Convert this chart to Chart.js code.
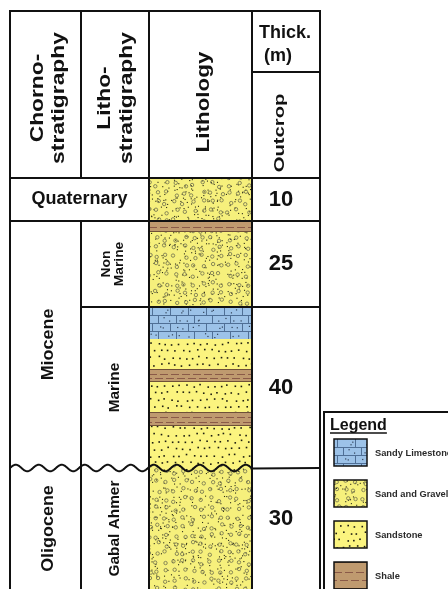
<!DOCTYPE html>
<html>
<head>
<meta charset="utf-8">
<script src="https://cdn.jsdelivr.net/npm/chart.js@4.4.1/dist/chart.umd.min.js"></script>
<style>
  html, body { margin: 0; padding: 0; background: #fff; overflow: hidden; }
  canvas { display: block; }
</style>
</head>
<body>
<canvas id="column" width="448" height="589"></canvas>
<script>
// Lithology layers, top to base, in schematic column units (not to scale)
const layerTypes = ['gravel', 'shale', 'gravel', 'limestone', 'sandstone', 'shale', 'sandstone', 'shale', 'sandstone', 'gravel'];
const layerTops  = [0,   4.3, 5.4,  12.9, 16.1, 19.1, 20.4, 23.4, 24.8, 29.0];
const layerBases = [4.3, 5.4, 12.9, 16.1, 19.1, 20.4, 23.4, 24.8, 29.0, 41.1];
const columnDepth = 41.1;

// Chronostratigraphic units
const chronoUnits = ['Quaternary', 'Miocene', 'Oligocene'];
const chronoTops  = [0, 4.3, 29.0];
const chronoBases = [4.3, 29.0, 41.1];

// Lithostratigraphic units and outcrop thickness (m)
const lithoUnits = ['', 'Non\nMarine', 'Marine', 'Gabal Ahmer'];
const lithoTops  = [0, 4.3, 12.9, 29.0];
const lithoBases = [4.3, 12.9, 29.0, 41.1];
const outcropThickness = [10, 25, 40, 30];

// Unconformity between Miocene and Oligocene
const unconformityAt = 29.0;

// Legend entries
const legendTypes  = ['limestone', 'gravel', 'sandstone', 'shale'];
const legendLabels = ['Sandy Limestone', 'Sand and Gravel', 'Sandstone', 'Shale'];

const FILL = { gravel: '#f6f07c', sandstone: '#fbf47f', shale: '#bf9a6f', limestone: '#9cc2e8' };
const FONT = '"Liberation Sans", Arial, sans-serif';
const INK = '#111';

// table frame
const T = { left: 10, top: 11, col2: 81, right: 320, thickSplit: 72 };

function hsh(a, b, s) {
  const v = Math.sin(a * 127.1 + b * 311.7 + s * 74.7) * 43758.5453;
  return v - Math.floor(v);
}

// fills a rectangle with a lithology texture
function texture(ctx, type, x, y, w, h) {
  ctx.save();
  ctx.beginPath(); ctx.rect(x, y, w, h); ctx.clip();
  ctx.fillStyle = FILL[type];
  ctx.fillRect(x, y, w, h);
  if (type === 'gravel') {
    const s = 4;
    ctx.fillStyle = '#2b2b18';
    for (let j = Math.floor(y / s) - 1; j <= Math.ceil((y + h) / s); j++) {
      for (let i = Math.floor(x / s) - 1; i <= Math.ceil((x + w) / s); i++) {
        if (hsh(i, j, 1) < 0.5) ctx.fillRect(i * s + hsh(i, j, 2) * s, j * s + hsh(i, j, 3) * s, 1.1, 1.1);
      }
    }
    const g = 9;
    ctx.strokeStyle = '#7c7c52'; ctx.lineWidth = 0.9;
    for (let j = Math.floor(y / g) - 1; j <= Math.ceil((y + h) / g); j++) {
      for (let i = Math.floor(x / g) - 1; i <= Math.ceil((x + w) / g); i++) {
        const cx = i * g + 2 + hsh(i, j, 4) * (g - 4);
        const cy = j * g + 2 + hsh(i, j, 5) * (g - 4);
        ctx.beginPath(); ctx.arc(cx, cy, 1.7, 0, Math.PI * 2); ctx.stroke();
      }
    }
  } else if (type === 'sandstone') {
    const s = 7;
    ctx.fillStyle = '#1c1c10';
    for (let j = Math.floor(y / s) - 1; j <= Math.ceil((y + h) / s); j++) {
      for (let i = Math.floor(x / s) - 1; i <= Math.ceil((x + w) / s); i++) {
        const cx = i * s + (j % 2 ? 3.5 : 0) + (hsh(i, j, 6) - 0.5) * 3;
        const cy = j * s + (hsh(i, j, 7) - 0.5) * 3;
        ctx.fillRect(cx, cy, 1.6, 1.6);
      }
    }
  } else if (type === 'shale') {
    ctx.strokeStyle = '#6e5038'; ctx.lineWidth = 1;
    ctx.beginPath();
    ctx.moveTo(x, y + 0.5); ctx.lineTo(x + w, y + 0.5);
    ctx.moveTo(x, y + h - 0.5); ctx.lineTo(x + w, y + h - 0.5);
    ctx.stroke();
    ctx.strokeStyle = '#8a5a48';
    const rows = h >= 12 ? [0.36, 0.68] : [0.5];
    rows.forEach((f, k) => {
      ctx.setLineDash([8, 3]);
      ctx.lineDashOffset = k * 5;
      ctx.beginPath();
      ctx.moveTo(x, Math.round(y + h * f) + 0.5); ctx.lineTo(x + w, Math.round(y + h * f) + 0.5);
      ctx.stroke();
    });
    ctx.setLineDash([]);
  } else if (type === 'limestone') {
    const rh = 8, bw = 18;
    ctx.strokeStyle = '#4f6f96'; ctx.lineWidth = 1;
    const nRows = Math.ceil(h / rh);
    for (let k = 0; k < nRows; k++) {
      const ry = y + k * rh;
      ctx.beginPath();
      if (k > 0) { ctx.moveTo(x, ry + 0.5); ctx.lineTo(x + w, ry + 0.5); }
      const off = (k % 2) ? bw / 2 : 3;
      for (let bx = x + off; bx < x + w; bx += bw) {
        ctx.moveTo(Math.round(bx) + 0.5, ry); ctx.lineTo(Math.round(bx) + 0.5, ry + rh);
      }
      ctx.stroke();
      ctx.fillStyle = '#2f3f55';
      for (let bx = x + off - bw, m = 0; bx < x + w; bx += bw, m++) {
        for (let d = 0; d < 2; d++) {
          ctx.fillRect(bx + 2 + hsh(k, m, 8 + d) * (bw - 4), ry + 2 + hsh(k, m, 10 + d) * (rh - 4), 1.2, 1.2);
        }
      }
    }
  }
  ctx.restore();
}

function waveY(x, yU) {
  return yU + 3.3 * Math.sin((x - T.left) / 23 * Math.PI * 2 + Math.PI);
}

// vertical text reading bottom-to-top; bx is the baseline x, cy the centre along the text
function vText(ctx, text, bx, cy, size, stretch) {
  ctx.save();
  ctx.translate(bx, cy);
  ctx.rotate(-Math.PI / 2);
  ctx.scale(stretch, 1);
  ctx.font = 'bold ' + size + 'px ' + FONT;
  ctx.textAlign = 'center';
  ctx.textBaseline = 'alphabetic';
  ctx.fillStyle = INK;
  ctx.fillText(text, 0, 0);
  ctx.restore();
}

function hText(ctx, text, x, y, size, align, baseline, color) {
  ctx.save();
  ctx.font = 'bold ' + size + 'px ' + FONT;
  ctx.textAlign = align || 'center';
  ctx.textBaseline = baseline || 'middle';
  ctx.fillStyle = color || INK;
  ctx.fillText(text, x, y);
  ctx.restore();
}

const columnPlugin = {
  id: 'stratColumn',
  afterDatasetsDraw(chart) {
    const ctx = chart.ctx;
    const ys = chart.scales.y;
    const area = chart.chartArea;
    const L = area.left, R = area.right;

    // textures inside each layer bar
    chart.data.datasets.forEach((ds, i) => {
      const el = chart.getDatasetMeta(i).data[0];
      const p = el.getProps(['x', 'y', 'base', 'width'], true);
      const top = Math.min(p.y, p.base), h = Math.abs(p.base - p.y);
      texture(ctx, layerTypes[i], p.x - p.width / 2, top, p.width, h);
    });

    // wavy unconformity surface through the column
    const yU = ys.getPixelForValue(unconformityAt);
    const upper = layerTypes[layerBases.indexOf(unconformityAt)];
    const lower = layerTypes[layerTops.indexOf(unconformityAt)];
    ctx.save();
    ctx.beginPath();
    ctx.moveTo(L, yU - 6);
    ctx.lineTo(R, yU - 6);
    for (let x = R; x >= L; x--) ctx.lineTo(x, waveY(x, yU));
    ctx.closePath();
    ctx.clip();
    texture(ctx, upper, L, yU - 6, R - L, 12);
    ctx.restore();
    ctx.save();
    ctx.beginPath();
    ctx.moveTo(L, yU + 6);
    ctx.lineTo(R, yU + 6);
    for (let x = R; x >= L; x--) ctx.lineTo(x, waveY(x, yU));
    ctx.closePath();
    ctx.clip();
    texture(ctx, lower, L, yU - 6, R - L, 12);
    ctx.restore();

    // table rules
    const bottom = chart.height + 2;
    const hdr = area.top;
    ctx.save();
    ctx.strokeStyle = INK;
    ctx.lineWidth = 2;
    ctx.lineCap = 'butt';
    const line = (x1, y1, x2, y2) => { ctx.beginPath(); ctx.moveTo(x1, y1); ctx.lineTo(x2, y2); ctx.stroke(); };
    line(T.left - 1, T.top, T.right + 1, T.top);
    line(T.left, T.top, T.left, bottom);
    line(T.right, T.top, T.right, bottom);
    line(L, T.top, L, bottom);
    line(R, T.top, R, bottom);
    line(T.col2, T.top, T.col2, hdr);
    line(R, T.thickSplit, T.right, T.thickSplit);
    line(T.left, hdr, T.right, hdr);
    lithoUnits.forEach((u, i) => {
      const yt = ys.getPixelForValue(lithoTops[i]);
      const yb = ys.getPixelForValue(lithoBases[i]);
      if (u) line(T.col2, yt, T.col2, Math.min(yb, bottom));
    });
    chronoTops.forEach((v, i) => {
      if (i === 0 || v === unconformityAt) return;
      line(T.left, ys.getPixelForValue(v), T.right, ys.getPixelForValue(v));
    });
    lithoTops.forEach(v => {
      if (v === 0 || chronoTops.includes(v)) return;
      line(T.col2, ys.getPixelForValue(v), T.right, ys.getPixelForValue(v));
    });
    // unconformity: wavy across the stratigraphy and lithology columns
    ctx.beginPath();
    for (let x = T.left; x <= R; x++) {
      const y = waveY(x, yU);
      if (x === T.left) ctx.moveTo(x, y); else ctx.lineTo(x, y);
    }
    ctx.stroke();
    line(R, waveY(R, yU), T.right, yU);
    ctx.restore();

    // header
    vText(ctx, 'Chorno-', 43, 98, 19, 1.2);
    vText(ctx, 'stratigraphy', 64, 98, 19, 1.2);
    vText(ctx, 'Litho-', 110, 98, 19, 1.2);
    vText(ctx, 'stratigraphy', 132, 98, 19, 1.2);
    vText(ctx, 'Lithology', (L + R) / 2 + 8, 102, 19, 1.18);
    hText(ctx, 'Thick.', 259, 38, 18, 'left', 'alphabetic');
    hText(ctx, '(m)', 264, 61, 18, 'left', 'alphabetic');
    vText(ctx, 'Outcrop', 284, 133, 15, 1.35);

    // chronostratigraphy
    chronoUnits.forEach((u, i) => {
      const yt = ys.getPixelForValue(chronoTops[i]);
      const yb = Math.min(ys.getPixelForValue(chronoBases[i]), chart.height);
      const cy = (yt + yb) / 2;
      if (i === 0 && !lithoUnits[0]) {
        hText(ctx, u, (T.left + L) / 2, cy, 18);
      } else {
        vText(ctx, u, 53, cy, 16, 1.12);
      }
    });

    // lithostratigraphy and thickness
    lithoUnits.forEach((u, i) => {
      const yt = ys.getPixelForValue(lithoTops[i]);
      const yb = Math.min(ys.getPixelForValue(lithoBases[i]), chart.height);
      const cy = (yt + yb) / 2;
      if (u) {
        const parts = u.split('\n');
        if (parts.length === 2) {
          vText(ctx, parts[0], 110, cy, 12, 1.15);
          vText(ctx, parts[1], 123, cy, 12, 1.15);
        } else {
          vText(ctx, u, 119, cy, 14, 1.1);
        }
      }
      const ny = (i === lithoUnits.length - 1) ? yt + (yb - yt) * 0.42 : cy;
      hText(ctx, String(outcropThickness[i]), 281, ny, 22);
    });

    // legend
    ctx.save();
    ctx.strokeStyle = INK; ctx.lineWidth = 2;
    ctx.strokeRect(324, 412, 140, 200);
    ctx.restore();
    hText(ctx, 'Legend', 330, 430, 16, 'left', 'alphabetic');
    ctx.save();
    ctx.font = 'bold 16px ' + FONT;
    const lw = ctx.measureText('Legend').width;
    ctx.strokeStyle = INK; ctx.lineWidth = 1.5;
    ctx.beginPath(); ctx.moveTo(330, 433); ctx.lineTo(330 + lw, 433); ctx.stroke();
    ctx.restore();
    legendTypes.forEach((t, i) => {
      const sy = 439 + i * 41;
      texture(ctx, t, 334, sy, 33, 27);
      ctx.save();
      ctx.strokeStyle = INK; ctx.lineWidth = 1.5;
      ctx.strokeRect(334, sy, 33, 27);
      ctx.restore();
      hText(ctx, legendLabels[i], 375, sy + 14, 9.3, 'left', 'middle', '#2a2a2a');
    });
  }
};

const datasets = layerTypes.map((t, i) => ({
  label: t,
  data: [[layerTops[i], layerBases[i]]],
  backgroundColor: FILL[t],
  borderWidth: 0,
  grouped: false,
  barPercentage: 1,
  categoryPercentage: 1
}));

new Chart(document.getElementById('column').getContext('2d'), {
  type: 'bar',
  data: { labels: ['Lithology'], datasets },
  options: {
    responsive: false,
    animation: false,
    layout: { padding: { left: 149, right: 196, top: 178, bottom: 0 } },
    scales: {
      x: { display: false },
      y: { display: false, reverse: true, min: 0, max: columnDepth }
    },
    plugins: { legend: { display: false }, tooltip: { enabled: false } }
  },
  plugins: [columnPlugin]
});
</script>
</body>
</html>
